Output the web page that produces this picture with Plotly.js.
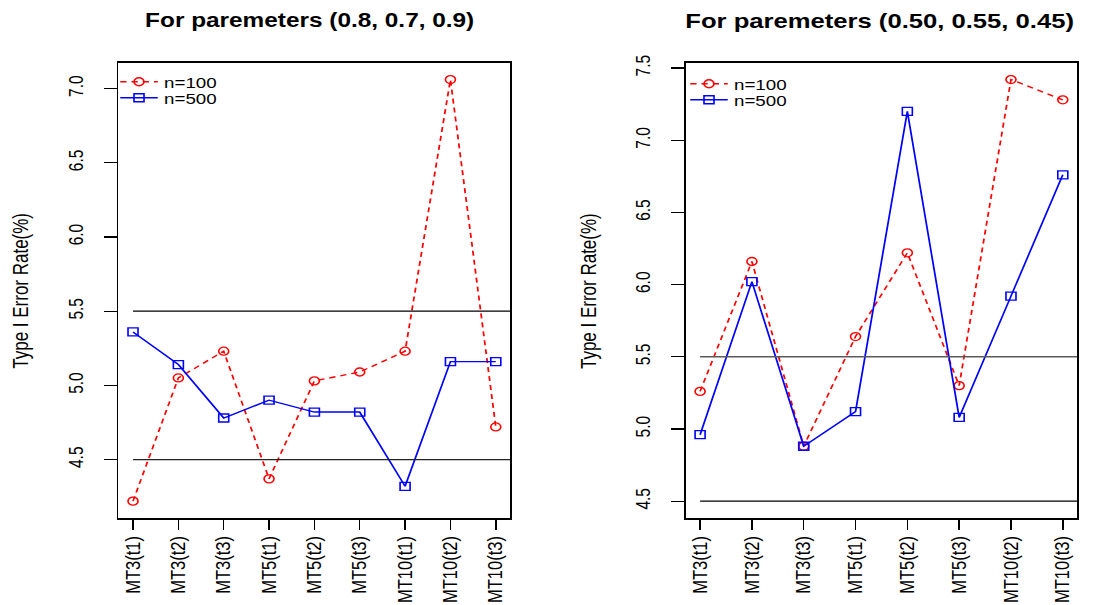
<!DOCTYPE html>
<html>
<head>
<meta charset="utf-8">
<script src="https://cdn.plot.ly/plotly-3.0.1.min.js"></script>
<style>
html,body{margin:0;padding:0;background:#fff;}
#wrap{width:1099px;height:605px;overflow:hidden;position:relative;}
#plot{width:879px;height:605px;transform:scale(1.25028,1);transform-origin:0 0;}
</style>
</head>
<body>
<div id="wrap"><div id="plot"></div></div>
<script>
// ---- data ----
const categoriesA = ['MT3(t1)','MT3(t2)','MT3(t3)','MT5(t1)','MT5(t2)','MT5(t3)','MT10(t1)','MT10(t2)','MT10(t3)'];
const n100A = [4.22, 5.05, 5.23, 4.37, 5.03, 5.09, 5.23, 7.06, 4.72];
const n500A = [5.36, 5.14, 4.78, 4.90, 4.82, 4.82, 4.32, 5.16, 5.16];

const categoriesB = ['MT3(t1)','MT3(t2)','MT3(t3)','MT5(t1)','MT5(t2)','MT5(t3)','MT10(t2)','MT10(t3)'];
const n100B = [5.26, 6.16, 4.88, 5.64, 6.22, 5.30, 7.42, 7.28];
const n500B = [4.96, 6.02, 4.88, 5.12, 7.20, 5.08, 5.92, 6.76];

const refLines = [4.5, 5.5];
const seriesNames = ['n=100', 'n=500'];
const titleA = 'For paremeters (0.8, 0.7, 0.9)';
const titleB = 'For paremeters (0.50, 0.55, 0.45)';
const yTitle = 'Type I Error Rate(%)';

// ---- helpers ----
const FONT = 'Liberation Sans, Arial, Helvetica, sans-serif';
function rPad(lo, hi){ const p = 0.04*(hi-lo); return [lo-p, hi+p]; }
const ylimA = rPad(Math.min(...n100A, ...n500A), Math.max(...n100A, ...n500A));
const ylimB = rPad(4.5, Math.max(...n100B, ...n500B));
const xlimA = rPad(0, categoriesA.length-1);
const xlimB = rPad(0, categoriesB.length-1);

function red(x, y, xa, ya, lg){
  return {x:x, y:y, xaxis:xa, yaxis:ya, legend:lg, name:seriesNames[0], type:'scatter', mode:'lines+markers',
    line:{color:'#ff0000', width:1.4, dash:'5px,4px'},
    marker:{symbol:'circle-open', size:8, color:'#ff0000', line:{width:1.3, color:'#ff0000'}}};
}
function blue(x, y, xa, ya, lg){
  return {x:x, y:y, xaxis:xa, yaxis:ya, legend:lg, name:seriesNames[1], type:'scatter', mode:'lines+markers',
    line:{color:'#0000ff', width:1.4},
    marker:{symbol:'square-open', size:8, color:'#0000ff', line:{width:1.3, color:'#0000ff'}}};
}

const data = [
  red(categoriesA, n100A, 'x', 'y', 'legend'),
  blue(categoriesA, n500A, 'x', 'y', 'legend3'),
  red(categoriesB, n100B, 'x2', 'y2', 'legend2'),
  blue(categoriesB, n500B, 'x2', 'y2', 'legend4')
];

function xaxis(cats, range, domain, anchor){
  return {type:'category', categoryorder:'array', categoryarray:cats, range:range, domain:domain, anchor:anchor,
    showline:true, mirror:true, linecolor:'#000', linewidth:1.5, showgrid:false, zeroline:false,
    ticks:'outside', ticklen:10, tickwidth:1.2, tickcolor:'#000', tickangle:-90, ticklabelstandoff:0,
    tickfont:{family:FONT, size:16.5, color:'#000'}, fixedrange:true};
}
function yaxis(range, domain, anchor){
  return {range:range, domain:domain, anchor:anchor, tick0:4.5, dtick:0.5, tickformat:'.1f',
    showline:true, mirror:true, linecolor:'#000', linewidth:1.5, showgrid:false, zeroline:false,
    ticks:'outside', ticklen:10.4, tickwidth:1.2, tickcolor:'#000', tickangle:-90, ticklabelstandoff:10,
    tickfont:{family:FONT, size:15.5, color:'#000'}, fixedrange:true};
}

const domY = [1-518/605, 1-62.7/605];
const domXA = [118.5/1099, 510.3/1099];
const domXB = [685.6/1099, 1077.3/1099];

const shapes = [];
refLines.forEach((v, i) => {
  shapes.push({type:'line', xref:'x', yref:'y', x0:0, x1:xlimA[1], y0:v, y1:v, line:{color: i===0 ? '#222' : '#000', width:1.2}});
  shapes.push({type:'line', xref:'x2', yref:'y2', x0:0, x1:xlimB[1], y0:v, y1:v, line:{color: i===0 ? '#000' : '#5a5a5a', width:1.4}});
});

const annotations = [
  {text:'<b>'+titleA+'</b>', xref:'paper', yref:'paper', x:310/1099, y:1-20/605, xanchor:'center', yanchor:'middle', showarrow:false, font:{family:FONT, size:19.5, color:'#000'}},
  {text:'<b>'+titleB+'</b>', xref:'paper', yref:'paper', x:880/1099, y:1-20/605, xanchor:'center', yanchor:'middle', showarrow:false, font:{family:FONT, size:20.5, color:'#000'}},
  {text:yTitle, xref:'paper', yref:'paper', x:21/1099, y:1-291/605, xanchor:'center', yanchor:'middle', textangle:-90, showarrow:false, font:{family:FONT, size:17, color:'#000'}},
  {text:yTitle, xref:'paper', yref:'paper', x:589/1099, y:1-291/605, xanchor:'center', yanchor:'middle', textangle:-90, showarrow:false, font:{family:FONT, size:17, color:'#000'}}
];

function legend(x, y){
  return {x:x, y:y, xref:'paper', yref:'paper', xanchor:'left', yanchor:'middle', bgcolor:'rgba(0,0,0,0)',
    borderwidth:0, font:{family:FONT, size:15, color:'#000'}, tracegroupgap:0, itemwidth:30, traceorder:'normal'};
}

const layout = {
  width:879, height:605, margin:{l:0, r:0, t:0, b:0},
  paper_bgcolor:'#fff', plot_bgcolor:'#fff', showlegend:true,
  xaxis: xaxis(categoriesA, xlimA, domXA, 'y'),
  yaxis: yaxis(ylimA, domY, 'x'),
  xaxis2: xaxis(categoriesB, xlimB, domXB, 'y2'),
  yaxis2: yaxis(ylimB, domY, 'x2'),
  legend: legend(114/1099, 1-82/605),
  legend3: legend(114/1099, 1-98/605),
  legend2: legend(684/1099, 1-84/605),
  legend4: legend(684/1099, 1-100/605),
  shapes: shapes,
  annotations: annotations
};

Plotly.newPlot('plot', data, layout, {staticPlot:true, displayModeBar:false});
</script>
</body>
</html>
